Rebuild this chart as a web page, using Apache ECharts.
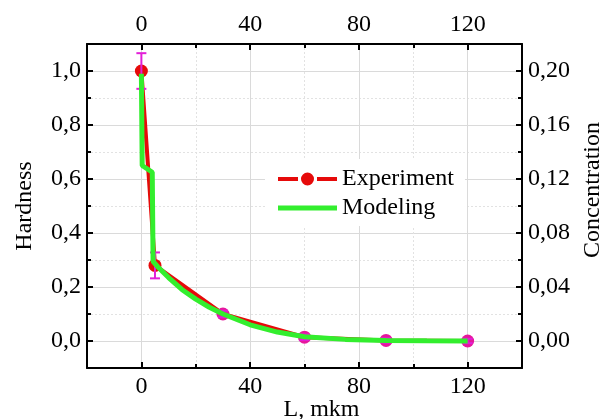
<!DOCTYPE html>
<html>
<head>
<meta charset="utf-8">
<script src="https://cdn.jsdelivr.net/npm/echarts@6.0.0/dist/echarts.min.js"></script>
<style>
  html, body { margin: 0; padding: 0; background: #fff; }
  #chart { width: 604px; height: 419px; }
</style>
</head>
<body>
<div id="chart"></div>
<script>
// experiment: hardness vs depth
const expX = [0, 5, 30, 60, 90, 120];
const expY = [1.0, 0.28, 0.1, 0.014, 0.002, 0.0];
const expErr = [0.066, 0.048, 0.012, 0.01, 0.008, 0.008];

// modeling: concentration vs depth (right axis)
const modX = [0, 0.3, 4.0, 4.3, 6, 10, 15, 20, 25, 30, 40, 50, 60, 75, 90, 105, 120];
const modC = [0.198, 0.130, 0.125, 0.059, 0.055, 0.047, 0.038, 0.031, 0.025, 0.020, 0.012, 0.0066, 0.0032, 0.0012, 0.0004, 0.0001, 0];

// tick labels
const xMajor = [0, 40, 80, 120];
const xMinor = [20, 60, 100];
const hMajor = [0, 0.2, 0.4, 0.6, 0.8, 1.0];
const hMinor = [0.1, 0.3, 0.5, 0.7, 0.9];
const cMajor = [0, 0.04, 0.08, 0.12, 0.16, 0.2];
const cMinor = [0.02, 0.06, 0.1, 0.14, 0.18];

const FONT = "Liberation Serif";
const RED = "#e60a0a";
const GREEN = "#33ee2e";
const MAGENTA = "#e21fd8";

const comma = (d) => (v) => v.toFixed(d).replace(".", ",");

const minorTick = (vals) => ({ show: true, inside: true, length: 4, customValues: vals, lineStyle: { color: "#000", width: 2 } });
const noLine = { show: false, onZero: false };

function xAx(pos, major, withLabel, extra) {
  return Object.assign({
    type: "value", position: pos, min: -20, max: 140,
    axisLine: { show: true, onZero: false, lineStyle: { color: "#000", width: 2 } },
    axisTick: { show: true, inside: true, length: 6, customValues: major, lineStyle: { color: "#000", width: 2 } },
    axisLabel: withLabel ? { show: true, customValues: major, margin: 7, color: "#000", fontFamily: FONT, fontSize: 24 } : { show: false },
    splitLine: { show: false }
  }, extra || {});
}

function yAx(pos, min, max, major, fmt, withLabel, extra) {
  return Object.assign({
    type: "value", position: pos, min: min, max: max,
    axisLine: { show: true, onZero: false, lineStyle: { color: "#000", width: 2 } },
    axisTick: { show: true, inside: true, length: 6, customValues: major, lineStyle: { color: "#000", width: 2 } },
    axisLabel: withLabel ? { show: true, customValues: major, margin: 6, color: "#000", fontFamily: FONT, fontSize: 24, formatter: fmt } : { show: false },
    splitLine: { show: false }
  }, extra || {});
}

const solidGrid = { show: true, lineStyle: { color: "#dadada", width: 1, type: "solid" } };
const dotGrid = { show: true, lineStyle: { color: "#e2e2e2", width: 1, type: [2, 2] } };

// legend icons: dash-dot-dash for experiment, plain thick line for modeling
const expIcon = "path://M0,4.5H20V8.5H0Z M39,4.5H59V8.5H39Z M23,6.5A6.5,6.5 0 1 1 36,6.5A6.5,6.5 0 1 1 23,6.5Z";
const modIcon = "path://M0,0H59V5H0Z";

const option = {
  animation: false,
  backgroundColor: "#fff",
  grid: { left: 87, right: 82, top: 44, bottom: 51, outerBoundsMode: "none", containLabel: false },
  legend: {
    orient: "vertical",
    left: 265, top: 159,
    padding: [8, 11, 6, 13],
    backgroundColor: "#fff",
    itemWidth: 59, itemHeight: 13, itemGap: 5,
    symbolKeepAspect: true,
    textStyle: { fontFamily: FONT, fontSize: 24, color: "#000" },
    data: [
      { name: "Experiment", icon: expIcon, itemStyle: { color: RED } },
      { name: "Modeling", icon: modIcon, itemStyle: { color: GREEN } }
    ]
  },
  xAxis: [
    xAx("bottom", xMajor, true, {
      splitLine: solidGrid,
      name: "L, mkm", nameLocation: "middle", nameGap: 30, nameMoveOverlap: false,
      nameTextStyle: { fontFamily: FONT, fontSize: 24, color: "#000", padding: [0, 0, 0, 34] }
    }),
    xAx("bottom", xMinor, false, { axisLine: noLine, axisTick: minorTick(xMinor), splitLine: dotGrid }),
    xAx("top", xMajor, true),
    xAx("top", xMinor, false, { axisLine: noLine, axisTick: minorTick(xMinor) })
  ],
  yAxis: [
    yAx("left", -0.1, 1.1, hMajor, comma(1), true, {
      splitLine: solidGrid,
      name: "Hardness", nameLocation: "middle", nameGap: 50, nameRotate: 90,
      nameTextStyle: { fontFamily: FONT, fontSize: 24, color: "#000" }
    }),
    yAx("left", -0.1, 1.1, hMinor, null, false, { axisLine: noLine, axisTick: minorTick(hMinor), splitLine: dotGrid }),
    yAx("right", -0.02, 0.22, cMajor, comma(2), true, {
      name: "Concentration", nameLocation: "middle", nameGap: 59, nameRotate: 90,
      nameTextStyle: { fontFamily: FONT, fontSize: 24, color: "#000", padding: [0, 0, 0, 32] }
    }),
    yAx("right", -0.02, 0.22, cMinor, null, false, { axisLine: noLine, axisTick: minorTick(cMinor) })
  ],
  series: [
    {
      name: "Experiment",
      type: "line",
      xAxisIndex: 0, yAxisIndex: 0,
      data: expX.map((x, i) => [x, expY[i]]),
      symbol: "circle", symbolSize: 13,
      lineStyle: { color: RED, width: 4 },
      itemStyle: {
        color: (p) => (p.dataIndex < 2 ? RED : "#e6179c")
      },
      z: 2
    },
    {
      name: "errors",
      type: "custom",
      xAxisIndex: 0, yAxisIndex: 0,
      data: expX.map((x, i) => [x, expY[i], expErr[i]]),
      renderItem: function (params, api) {
        const x = api.value(0), y = api.value(1), e = api.value(2);
        const top = api.coord([x, y + e]);
        const bot = api.coord([x, y - e]);
        const hw = 5;
        const st = { stroke: MAGENTA, lineWidth: 2 };
        return {
          type: "group",
          children: [
            { type: "line", shape: { x1: top[0], y1: top[1], x2: bot[0], y2: bot[1] }, style: st },
            { type: "line", shape: { x1: top[0] - hw, y1: top[1], x2: top[0] + hw, y2: top[1] }, style: st },
            { type: "line", shape: { x1: bot[0] - hw, y1: bot[1], x2: bot[0] + hw, y2: bot[1] }, style: st }
          ]
        };
      },
      silent: true,
      z: 3
    },
    {
      name: "Modeling",
      type: "line",
      xAxisIndex: 0, yAxisIndex: 2,
      data: modX.map((x, i) => [x, modC[i]]),
      showSymbol: false, symbol: "none",
      lineStyle: { color: GREEN, width: 5 },
      itemStyle: { color: GREEN },
      z: 4
    }
  ]
};

const chart = echarts.init(document.getElementById("chart"), null, { renderer: "canvas" });
chart.setOption(option);
</script>
</body>
</html>
